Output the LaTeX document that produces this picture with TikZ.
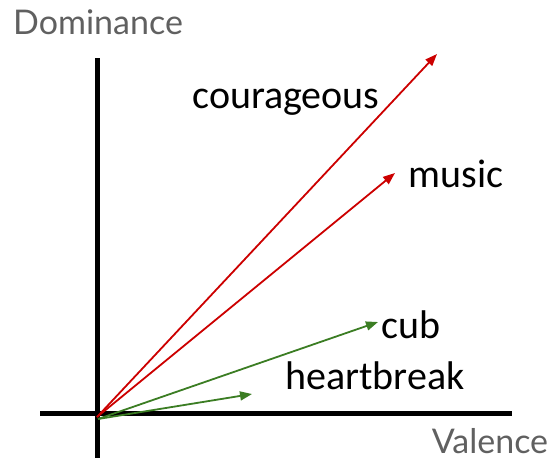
\documentclass[tikz,border=0pt]{standalone}
\usepackage{fontspec}
\setmainfont{Carlito}
\newfontfamily\latofont{Lato}
\usetikzlibrary{arrows.meta}
\definecolor{vred}{HTML}{CC0000}
\definecolor{vgreen}{HTML}{3B7D23}
\definecolor{axisgray}{HTML}{606060}
\begin{document}
\begin{tikzpicture}[x=1pt,y=-1pt,
  axisline/.style={line width=5pt},
  vec/.style={line width=1.8pt,-{Triangle[length=12pt,width=9pt]}},
  redvec/.style={vec,draw=vred,fill=vred},
  greenvec/.style={vec,draw=vgreen,fill=vgreen},
  wordlabel/.style={font=\fontsize{40}{45}\selectfont,inner sep=0pt,anchor=base},
  axislabel/.style={font=\latofont\fontsize{34}{40}\selectfont,text=axisgray,inner sep=0pt,anchor=base}]
\useasboundingbox (0,0) rectangle (554,459);
\coordinate (vtop) at (97,58);
\coordinate (vbot) at (97,458);
\coordinate (hleft) at (40,413);
\coordinate (hright) at (512,413);
\draw[axisline] (vtop) -- (vbot);
\draw[axisline] (hleft) -- (hright);
\coordinate (o) at (97,417);
\coordinate (og) at (98,419);
\coordinate (courT) at (437,54);
\coordinate (musT) at (395,173);
\coordinate (cubT) at (378,322);
\coordinate (heartT) at (252,394);
\draw[redvec] (o) -- (courT);
\draw[redvec] (o) -- (musT);
\draw[greenvec] (og) -- (cubT);
\draw[greenvec] (og) -- (heartT);
\node[wordlabel] (cour) at (286,108) {courageous};
\node[wordlabel] (mus) at (456,187) {music};
\node[wordlabel] (cub) at (411,338) {cub};
\node[wordlabel] (heart) at (375,389) {heartbreak};
\node[axislabel] (dom) at (98,34) {Dominance};
\node[axislabel] (val) at (490,453) {Valence};
\end{tikzpicture}
\end{document}
